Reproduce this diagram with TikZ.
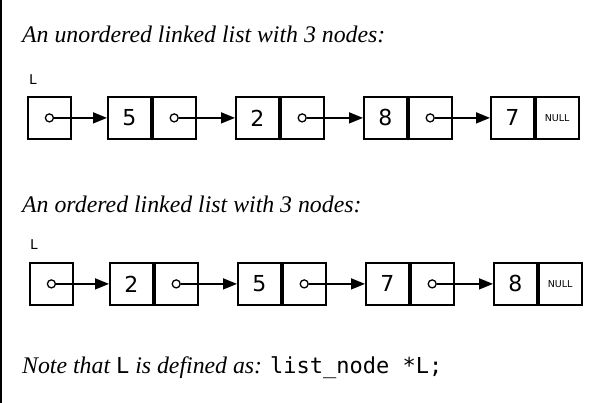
\documentclass[tikz,border=0pt]{standalone}
\usepackage{fontspec}
\setmainfont{Liberation Serif}
\newfontfamily\dvs{DejaVu Sans}
\newfontfamily\dvm{DejaVu Sans Mono}
\usetikzlibrary{arrows.meta}
\begin{document}
\begin{tikzpicture}[x=1pt,y=-1pt,
  cell/.style={draw, line width=1.8pt, minimum width=43pt, minimum height=42pt, inner sep=0pt, anchor=north west, font=\dvs\fontsize{22}{22}\selectfont},
  nullcell/.style={cell, font=\dvs\fontsize{9.5}{9.5}\selectfont},
  ptr/.style={circle, draw, line width=1.3pt, fill=white, minimum size=8pt, inner sep=0pt},
  link/.style={line width=1.5pt, -{Triangle[length=14pt,width=11pt]}},
  heading/.style={anchor=base west, inner sep=0pt, font=\fontsize{23.8}{23.8}\selectfont\itshape},
  lbl/.style={anchor=base west, inner sep=0pt, font=\dvm\fontsize{13.5}{13.5}\selectfont}]
\useasboundingbox (0,0) rectangle (595,403);
\draw[line width=2pt] (1,0) -- (1,403);
% top list
\node[heading] (h1) at (22,43) {An unordered linked list with 3 nodes:};
\node[lbl] (l1) at (29,85) {L};
\node[cell] (tL) at (27,96) {};
\node[ptr] (tLc) at (tL.center) {};
\node[cell] (t1v) at (107,96) {5};
\node[cell] (t1p) at (t1v.north east) {};
\node[ptr] (t1c) at (t1p.center) {};
\node[cell] (t2v) at (235,96) {2};
\node[cell] (t2p) at (t2v.north east) {};
\node[ptr] (t2c) at (t2p.center) {};
\node[cell] (t3v) at (363,96) {8};
\node[cell] (t3p) at (t3v.north east) {};
\node[ptr] (t3c) at (t3p.center) {};
\node[cell] (t4v) at (490,96) {7};
\node[nullcell] (t4p) at (t4v.north east) {NULL};
\draw[link] (tLc) -- (t1v);
\draw[link] (t1c) -- (t2v);
\draw[link] (t2c) -- (t3v);
\draw[link] (t3c) -- (t4v);
% bottom list
\node[heading] (h2) at (22,213) {An ordered linked list with 3 nodes:};
\node[lbl] (l2) at (30,250) {L};
\node[cell] (bL) at (29,262) {};
\node[ptr] (bLc) at (bL.center) {};
\node[cell] (b1v) at (109,262) {2};
\node[cell] (b1p) at (b1v.north east) {};
\node[ptr] (b1c) at (b1p.center) {};
\node[cell] (b2v) at (237,262) {5};
\node[cell] (b2p) at (b2v.north east) {};
\node[ptr] (b2c) at (b2p.center) {};
\node[cell] (b3v) at (365,262) {7};
\node[cell] (b3p) at (b3v.north east) {};
\node[ptr] (b3c) at (b3p.center) {};
\node[cell] (b4v) at (493,262) {8};
\node[nullcell] (b4p) at (b4v.north east) {NULL};
\draw[link] (bLc) -- (b1v);
\draw[link] (b1c) -- (b2v);
\draw[link] (b2c) -- (b3v);
\draw[link] (b3c) -- (b4v);
% note
\node[heading] (note) at (22,374) {Note that {\upshape\dvm\fontsize{22}{22}\selectfont L} is defined as: {\upshape\dvm\fontsize{22}{22}\selectfont list\_node *L;}};
\end{tikzpicture}
\end{document}
